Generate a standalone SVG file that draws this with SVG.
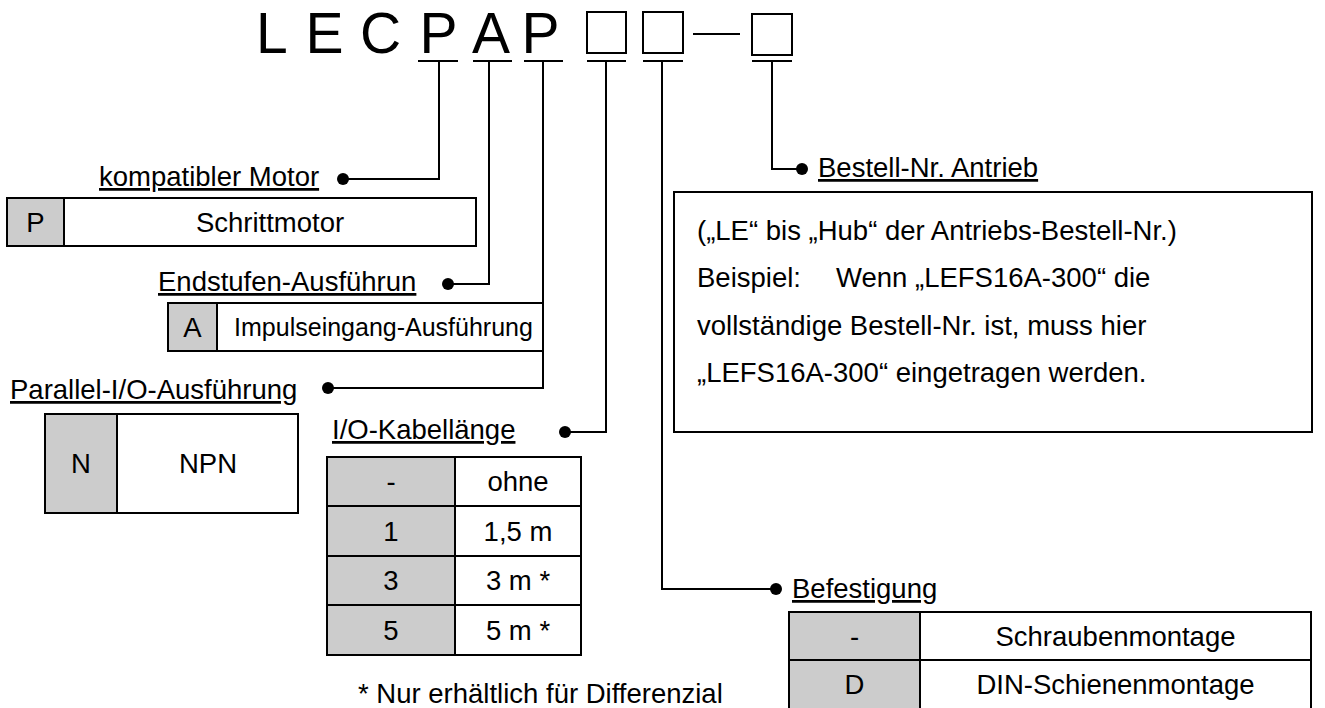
<svg xmlns="http://www.w3.org/2000/svg" width="1325" height="708" viewBox="0 0 1325 708">
<style>
text{font-family:"Liberation Sans",Arial,sans-serif;fill:#000}
.t{font-size:57px}
.lbl{font-size:27.5px;text-decoration:underline}
.c{font-size:27.5px;text-anchor:middle}
.b{font-size:27.5px}
.ln{fill:none;stroke:#000;stroke-width:2}
.cell{fill:#fff;stroke:#000;stroke-width:2}
.g{fill:#cccccc;stroke:#000;stroke-width:2}
.dot{fill:#000}
</style>
<rect width="1325" height="708" fill="#fff"/>
<g id="title">
<text class="t" x="256" y="53">L</text>
<text class="t" x="305.5" y="53">E</text>
<text class="t" x="360" y="53">C</text>
<text class="t" x="419.5" y="53">P</text>
<text class="t" x="472" y="53">A</text>
<text class="t" x="521.5" y="53">P</text>
<rect class="ln" x="587" y="12" width="39" height="41"/>
<rect class="ln" x="643" y="12" width="40" height="41"/>
<line class="ln" x1="693" y1="34" x2="740" y2="34"/>
<rect class="ln" x="752" y="14" width="40" height="41"/>
<path class="ln" d="M418 61H458M473 61H512M524 61H563M587 61H626M643 61H683M752 61H792"/>
</g>
<g id="connectors">
<path class="ln" d="M439 61V179H343"/>
<path class="ln" d="M489 61V284H448"/>
<path class="ln" d="M543 61V388H328"/>
<path class="ln" d="M606 61V432H565"/>
<path class="ln" d="M662 61V589H776"/>
<path class="ln" d="M772 61V169H802"/>
<circle class="dot" cx="343" cy="179" r="6"/>
<circle class="dot" cx="448" cy="284" r="6"/>
<circle class="dot" cx="328" cy="388" r="6"/>
<circle class="dot" cx="565" cy="432" r="6"/>
<circle class="dot" cx="776" cy="589" r="6"/>
<circle class="dot" cx="802" cy="169" r="6"/>
</g>
<g id="motor">
<text class="lbl" x="99" y="186">kompatibler Motor</text>
<rect class="cell" x="7" y="198" width="469" height="48"/>
<rect class="g" x="7" y="198" width="57" height="48"/>
<text class="c" x="35.5" y="232">P</text>
<text class="c" x="270" y="232">Schrittmotor</text>
</g>
<g id="endstufe">
<text class="lbl" x="158" y="291">Endstufen-Ausführun</text>
<path class="ln" d="M543 303H168V351H543"/>
<rect class="g" x="168" y="303" width="49" height="48"/>
<text class="c" x="192.5" y="337">A</text>
<text class="c" x="383.5" y="336" style="font-size:25px">Impulseingang-Ausführung</text>
</g>
<g id="parallel">
<text class="lbl" x="10" y="399">Parallel-I/O-Ausführung</text>
<rect class="cell" x="45" y="414" width="253" height="99"/>
<rect class="g" x="45" y="414" width="72" height="99"/>
<text class="c" x="81" y="473">N</text>
<text class="c" x="208" y="473">NPN</text>
</g>
<g id="kabel">
<text class="lbl" x="332" y="439">I/O-Kabellänge</text>
<rect class="cell" x="327" y="457" width="254" height="198"/>
<rect class="g" x="327" y="457" width="128" height="198"/>
<path class="ln" d="M327 506H581M327 556H581M327 605H581"/>
<text class="c" x="391" y="491">-</text>
<text class="c" x="518" y="491">ohne</text>
<text class="c" x="391" y="541">1</text>
<text class="c" x="518" y="541">1,5 m</text>
<text class="c" x="391" y="590">3</text>
<text class="c" x="518" y="590">3 m *</text>
<text class="c" x="391" y="640">5</text>
<text class="c" x="518" y="640">5 m *</text>
</g>
<g id="antrieb">
<text class="lbl" x="818" y="177">Bestell-Nr. Antrieb</text>
<rect class="cell" x="674" y="192" width="638" height="240"/>
<text class="b" x="697" y="240">(„LE“ bis „Hub“ der Antriebs-Bestell-Nr.)</text>
<text class="b" y="287"><tspan x="697">Beispiel:</tspan><tspan x="836">Wenn „LEFS16A-300“ die</tspan></text>
<text class="b" x="697" y="335">vollständige Bestell-Nr. ist, muss hier</text>
<text class="b" x="697" y="382">„LEFS16A-300“ eingetragen werden.</text>
</g>
<g id="befestigung">
<text class="lbl" x="792" y="598">Befestigung</text>
<rect class="cell" x="789" y="612" width="522" height="97"/>
<rect class="g" x="789" y="612" width="131" height="97"/>
<line class="ln" x1="789" y1="660" x2="1311" y2="660"/>
<text class="c" x="854.5" y="646">-</text>
<text class="c" x="1115.5" y="646">Schraubenmontage</text>
<text class="c" x="854.5" y="694">D</text>
<text class="c" x="1115.5" y="694">DIN-Schienenmontage</text>
</g>
<g id="footnote">
<text class="b" x="358" y="703">* Nur erhältlich für Differenzial</text>
</g>
</svg>
